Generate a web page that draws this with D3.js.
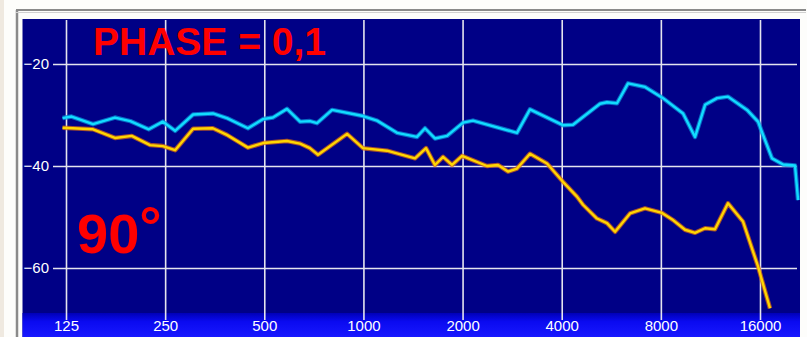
<!DOCTYPE html>
<html>
<head>
<meta charset="utf-8">
<script src="https://cdn.jsdelivr.net/npm/d3@7"></script>
<style>
  body { margin: 0; background: #fdfdfb; }
  svg { display: block; font-family: "Liberation Sans", Arial, sans-serif; }
</style>
</head>
<body>
<div id="chart"></div>
<script>
const freqTicks = [125, 250, 500, 1000, 2000, 4000, 8000, 16000];
const dbTicks = [-20, -40, -60];

// upper curve (cyan)
const cyanFreq = [122, 130, 151, 176, 196, 223, 246, 268, 304, 349, 385, 446, 496, 531, 586, 642, 688, 723, 803, 997,
  1100, 1265, 1454, 1538, 1649, 1794, 2006, 2151, 2926, 3204, 4036, 4329, 5228, 5490, 5889, 6360, 7161, 8123, 9343,
  10161, 10899, 11850, 12790, 14610, 15780, 17400, 18800, 20440, 20880];
const cyanDb = [-30.6, -30.3, -31.8, -30.5, -31.2, -32.8, -31.3, -33.1, -29.9, -29.7, -30.6, -32.6, -30.8, -30.5, -28.8,
  -31.3, -31.2, -31.6, -29.0, -30.2, -31.1, -33.5, -34.3, -32.6, -34.6, -34.1, -31.5, -31.1, -33.5, -28.9, -32.0, -31.9,
  -27.8, -27.5, -27.7, -23.8, -24.5, -26.7, -29.7, -34.3, -28.0, -26.7, -26.4, -29.0, -31.3, -38.5, -39.7, -39.9, -46.7];

// lower curve (yellow)
const yellowFreq = [122, 131, 151, 176, 198, 225, 246, 268, 304, 349, 385, 446, 496, 586, 642, 688, 728, 892, 997, 1179,
  1434, 1549, 1649, 1745, 1858, 1993, 2373, 2562, 2748, 2926, 3204, 3610, 4036, 4451, 4643, 5120, 5490, 5808, 6449,
  7161, 8066, 8712, 9474, 10161, 10899, 11681, 12790, 14210, 15780, 17160];
const yellowDb = [-32.5, -32.6, -32.8, -34.5, -34.1, -35.9, -36.1, -36.9, -32.7, -32.6, -33.9, -36.4, -35.5, -35.1, -35.6,
  -36.5, -37.8, -33.7, -36.5, -37.0, -38.5, -36.5, -39.8, -38.2, -39.8, -38.0, -40.0, -39.8, -41.1, -40.5, -37.6, -39.5,
  -43.1, -46.0, -47.6, -50.3, -51.2, -52.9, -49.3, -48.3, -49.2, -50.6, -52.5, -53.1, -52.2, -52.4, -47.3, -50.9, -59.7, -67.9];

const width = 807;
const height = 337;
const plot = { left: 22.5, top: 19, right: 800, bottom: 337 };

const x = d3.scaleLog().base(2).domain([125, 16000]).range([66, 760]);
const y = d3.scaleLinear().domain([-20, -60]).range([64, 268]);

const svg = d3.select("#chart").append("svg")
  .attr("width", width)
  .attr("height", height);

const defs = svg.append("defs");
const band = defs.append("linearGradient")
  .attr("id", "band").attr("x1", 0).attr("y1", 0).attr("x2", 0).attr("y2", 1);
band.append("stop").attr("offset", "0%").attr("stop-color", "#0000b8");
band.append("stop").attr("offset", "35%").attr("stop-color", "#0a0af0");
band.append("stop").attr("offset", "100%").attr("stop-color", "#1818ff");

defs.append("clipPath").attr("id", "clip")
  .append("rect")
  .attr("x", plot.left).attr("y", plot.top)
  .attr("width", plot.right - plot.left).attr("height", plot.bottom - plot.top);

// outer frame
svg.append("rect").attr("x", 0).attr("y", 0).attr("width", 4).attr("height", height).attr("fill", "#efe9e0");
svg.append("line").attr("x1", 16).attr("x2", 806).attr("y1", 10).attr("y2", 10)
  .attr("stroke", "#8a8a8a").attr("stroke-width", 2);
svg.append("line").attr("x1", 17).attr("x2", 17).attr("y1", 10).attr("y2", height)
  .attr("stroke", "#8a8a8a").attr("stroke-width", 2.5);
svg.append("line").attr("x1", 16).attr("x2", 806).attr("y1", 12.5).attr("y2", 12.5)
  .attr("stroke", "#d0d0d0").attr("stroke-width", 1);

// plot background
svg.append("rect")
  .attr("x", plot.left).attr("y", plot.top)
  .attr("width", plot.right - plot.left).attr("height", plot.bottom - plot.top)
  .attr("fill", "#000086");
svg.append("rect")
  .attr("x", plot.left).attr("y", 313)
  .attr("width", plot.right - plot.left).attr("height", plot.bottom - 313)
  .attr("fill", "url(#band)");

// grid + ticks
const yAxis = svg.append("g")
  .attr("transform", "translate(797,0)")
  .call(d3.axisLeft(y).tickValues(dbTicks).tickSize(744).tickPadding(4).tickFormat(d3.format("d")));
const xAxis = svg.append("g")
  .attr("transform", "translate(0,20)")
  .call(d3.axisBottom(x).tickValues(freqTicks).tickSize(300).tickPadding(0).tickFormat(d3.format("d")));

[yAxis, xAxis].forEach((g) => {
  g.select(".domain").remove();
  g.selectAll(".tick line").attr("stroke", "#e4e4ee").attr("stroke-width", 1.6);
  g.selectAll(".tick text").attr("fill", "#ffffff").attr("font-size", 15)
    .attr("font-family", "\"Liberation Sans\", Arial, sans-serif");
});

// curves
const line = d3.line()
  .x((d) => x(d[0]))
  .y((d) => y(d[1]));

const curves = svg.append("g").attr("clip-path", "url(#clip)");

function drawCurve(freqs, dbs, edge, core) {
  const pts = freqs.map((f, i) => [f, dbs[i]]);
  curves.append("path").datum(pts).attr("d", line)
    .attr("fill", "none").attr("stroke", edge).attr("stroke-width", 4.5)
    .attr("stroke-opacity", 0.75).attr("stroke-linejoin", "round");
  curves.append("path").datum(pts).attr("d", line)
    .attr("fill", "none").attr("stroke", core).attr("stroke-width", 2.4)
    .attr("stroke-linejoin", "round");
}

drawCurve(cyanFreq, cyanDb, "#0a8cd8", "#12dcff");
drawCurve(yellowFreq, yellowDb, "#d86a10", "#ffd600");

// annotations
svg.append("text")
  .attr("x", 93).attr("y", 55)
  .attr("font-size", 39).attr("font-weight", "bold")
  .attr("fill", "#ff0000")
  .text("PHASE = 0,1");

const deg = svg.append("text")
  .attr("x", 77).attr("y", 253)
  .attr("font-size", 56).attr("font-weight", "bold")
  .attr("fill", "#ff0000");
deg.append("tspan").text("90");
deg.append("tspan").attr("dy", -7).text("°");
</script>
</body>
</html>
